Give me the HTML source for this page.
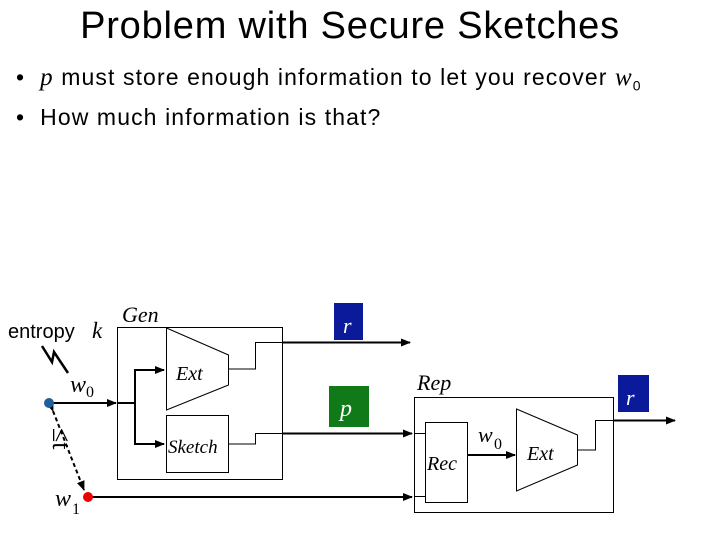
<!DOCTYPE html>
<html><head><meta charset="utf-8"><style>
body{margin:0;width:720px;height:540px;background:#fff;overflow:hidden;position:relative;font-family:"Liberation Sans",sans-serif}
.t{position:absolute;white-space:nowrap}
</style></head><body>
<div class="t" style="left:0;width:700px;text-align:center;top:5px;font-size:38px;letter-spacing:0.8px;">Problem with Secure Sketches</div>
<div class="t" style="left:16px;top:64px;font-size:23px;letter-spacing:1.1px;">• &nbsp;<i style="font-family:'Liberation Serif',serif;font-size:25px">p</i> must store enough information to let you recover <i style="font-family:'Liberation Serif',serif;font-size:25px">w</i><sub style="font-size:14px">0</sub></div>
<div class="t" style="left:16px;top:104px;font-size:23px;letter-spacing:1.1px;">• &nbsp;How much information is that?</div>
<svg width="720" height="540" style="position:absolute;left:0;top:0" font-family="Liberation Serif, serif" font-style="italic">
<defs><marker id="a" markerWidth="10" markerHeight="8" refX="9" refY="4" orient="auto" markerUnits="userSpaceOnUse"><path d="M0,0L10,4L0,8z" fill="#000"/></marker></defs>
<g fill="none" stroke="#000" stroke-width="1">
<rect x="117.5" y="327.5" width="165" height="152"/>
<path d="M166.5,328 L228.5,355 L228.5,385 L166.5,410 Z"/>
<rect x="166.5" y="415.5" width="62" height="57"/>
<rect x="414.5" y="397.5" width="199" height="115"/>
<rect x="425.5" y="422.5" width="42" height="80"/>
<path d="M516.5,409 L577.5,435 L577.5,465 L516.5,491 Z"/>
<path d="M228,369 H255.5 V342.5 H282"/>
<path d="M228,444 H255.5 V433.5 H282"/>
<path d="M577,450 H595.5 V420.5 H613"/>
<path d="M414,433.5 H425"/><path d="M414,496.5 H425"/>
</g>
<g stroke="#000" stroke-width="2" fill="none">
<line x1="49" y1="403" x2="116" y2="403" marker-end="url(#a)"/>
<path d="M117,403 H135 V370 H164" marker-end="url(#a)"/>
<path d="M135,403 V444 H164" marker-end="url(#a)"/>
<line x1="282" y1="342.5" x2="410" y2="342.5" marker-end="url(#a)"/>
<line x1="282" y1="433.5" x2="412" y2="433.5" marker-end="url(#a)"/>
<line x1="88" y1="497" x2="412" y2="497" marker-end="url(#a)"/>
<line x1="467" y1="455" x2="515" y2="455" marker-end="url(#a)"/>
<line x1="613" y1="420.5" x2="675" y2="420.5" marker-end="url(#a)"/>
<line x1="53" y1="411" x2="84" y2="490" stroke-dasharray="4,3" marker-end="url(#a)" marker-start="url(#a)"/>
<path d="M42,346 L52,362 L54,352 L68,373" stroke-width="2.5"/>
</g>
<circle cx="49" cy="403" r="5" fill="#1f5f9a"/>
<circle cx="88" cy="497" r="5" fill="#e00"/>
<rect x="334" y="303" width="29" height="37" fill="#0a1a9a"/>
<rect x="329" y="386" width="40" height="41" fill="#107a18"/>
<rect x="618" y="375" width="31" height="37" fill="#0a1a9a"/>
<g font-size="22">
<text x="343" y="333" fill="#fff">r</text>
<text x="340" y="416" fill="#fff" font-size="24">p</text>
<text x="626" y="405" fill="#fff">r</text>
<text x="122" y="322">Gen</text>
<text x="417" y="390">Rep</text>
<text x="176" y="380" font-size="20">Ext</text>
<text x="168" y="453" font-size="19">Sketch</text>
<text x="427" y="470" font-size="20">Rec</text>
<text x="527" y="460" font-size="20">Ext</text>
<text x="70" y="392" font-size="24">w</text><text x="86" y="397" font-size="16" font-style="normal">0</text>
<text x="55" y="506" font-size="24">w</text><text x="72" y="514" font-size="16" font-style="normal">1</text>
<text x="478" y="442" font-size="22">w</text><text x="494" y="449" font-size="16" font-style="normal">0</text>
<text x="92" y="338" font-size="23">k</text>
<text transform="translate(53,428) rotate(90)" font-size="26" font-style="normal">≤t</text>
</g>
<text x="8" y="338" font-family="Liberation Sans, sans-serif" font-style="normal" font-size="20">entropy</text>
</svg>
</body></html>
